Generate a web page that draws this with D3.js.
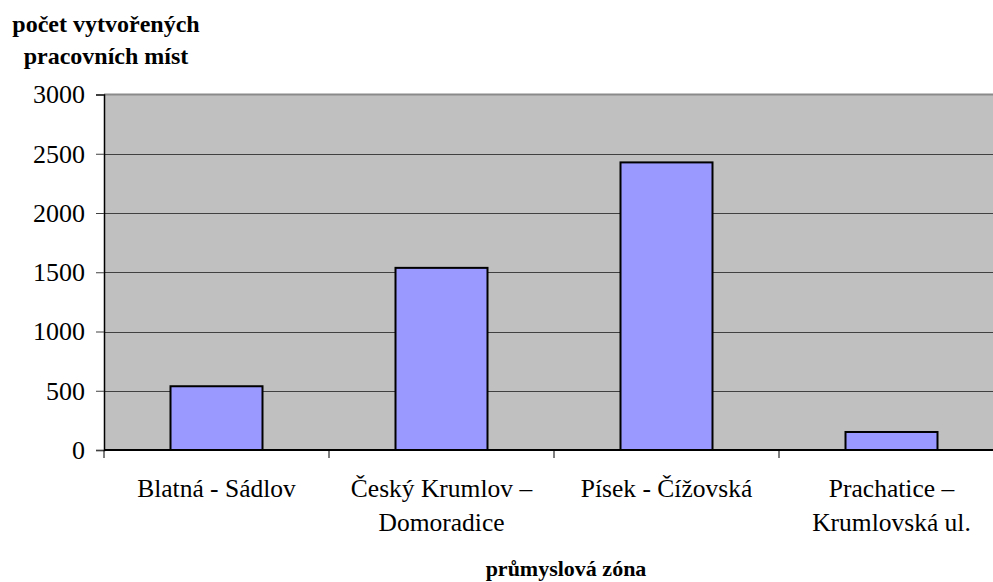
<!DOCTYPE html>
<html><head><meta charset="utf-8">
<script src="https://cdn.jsdelivr.net/npm/d3@7"></script>
<style>body{margin:0;background:#fff}svg{display:block}</style>
</head><body>
<script>
const categories = [["Blatná - Sádlov"], ["Český Krumlov –", "Domoradice"], ["Písek - Čížovská"], ["Prachatice –", "Krumlovská ul."]];
const values = [538, 1537, 2427, 152];
const yTicks = [0, 500, 1000, 1500, 2000, 2500, 3000];
const yTitle = ["počet vytvořených", "pracovních míst"];
const xTitle = "průmyslová zóna";

(function() {
const W = 993, H = 582;
const pL = 104, pR = 1004, pT = 94.5, pB = 450;
const FONT = "Liberation Serif";
const svg = d3.select("body").append("svg").attr("width", W).attr("height", H);

const xb = d3.scaleBand().domain(d3.range(categories.length)).range([pL, pR]);
const y = d3.scaleLinear().domain([0, 3000]).range([pB, pT]);

svg.append("rect").attr("x", pL).attr("y", pT).attr("width", pR - pL).attr("height", pB - pT).attr("fill", "#C0C0C0");

svg.append("g").selectAll("line").data(yTicks.filter(d => d > 0 && d < 3000)).join("line")
  .attr("x1", pL).attr("x2", pR).attr("y1", d => Math.round(y(d)) + 0.5).attr("y2", d => Math.round(y(d)) + 0.5)
  .attr("stroke", "#404040").attr("stroke-width", 1);
svg.append("line").attr("x1", pL).attr("x2", pR).attr("y1", pT).attr("y2", pT).attr("stroke", "#8a8a8a").attr("stroke-width", 2);

svg.append("g").selectAll("rect").data(values).join("rect")
  .attr("x", (d, i) => xb(i) + xb.bandwidth() / 2 - 46)
  .attr("width", 92)
  .attr("y", d => y(d)).attr("height", d => y(0) - y(d))
  .attr("fill", "#9999FF").attr("stroke", "#000").attr("stroke-width", 2);

const ya = svg.append("g").attr("transform", `translate(${pL},0)`)
  .call(d3.axisLeft(y).tickValues(yTicks).tickSize(8).tickPadding(11).tickFormat(d3.format("d")));
ya.select(".domain").attr("stroke", "#000").attr("stroke-width", 1.5);
ya.selectAll(".tick line").attr("stroke", "#404040");
ya.selectAll("text").style("font-family", FONT).style("font-size", "26px").attr("fill", "#000");

svg.append("line").attr("x1", pL).attr("x2", pR).attr("y1", pB).attr("y2", pB).attr("stroke", "#000").attr("stroke-width", 2);
svg.append("g").selectAll("line").data(d3.range(categories.length + 1)).join("line")
  .attr("x1", i => pL + i * xb.bandwidth()).attr("x2", i => pL + i * xb.bandwidth())
  .attr("y1", pB).attr("y2", pB + 8).attr("stroke", "#000");

const labels = svg.append("g").selectAll("text").data(categories).join("text")
  .attr("x", (d, i) => xb(i) + xb.bandwidth() / 2).attr("y", 497)
  .attr("text-anchor", "middle").style("font-family", FONT).style("font-size", "25.5px").attr("fill", "#000");
labels.selectAll("tspan").data(d => d).join("tspan")
  .attr("x", function() { return this.parentNode.getAttribute("x"); })
  .attr("dy", (d, i) => i === 0 ? 0 : 34).text(d => d);

svg.append("text").attr("x", 566).attr("y", 576).attr("text-anchor", "middle")
  .style("font-family", FONT).style("font-size", "22px").style("font-weight", "bold").text(xTitle);
svg.append("text").style("font-family", FONT).style("font-size", "24px").style("font-weight", "bold")
  .selectAll("tspan").data(yTitle).join("tspan")
  .attr("x", 106).attr("y", (d, i) => 32 + i * 32).attr("text-anchor", "middle").text(d => d);
})();
</script>
</body></html>
